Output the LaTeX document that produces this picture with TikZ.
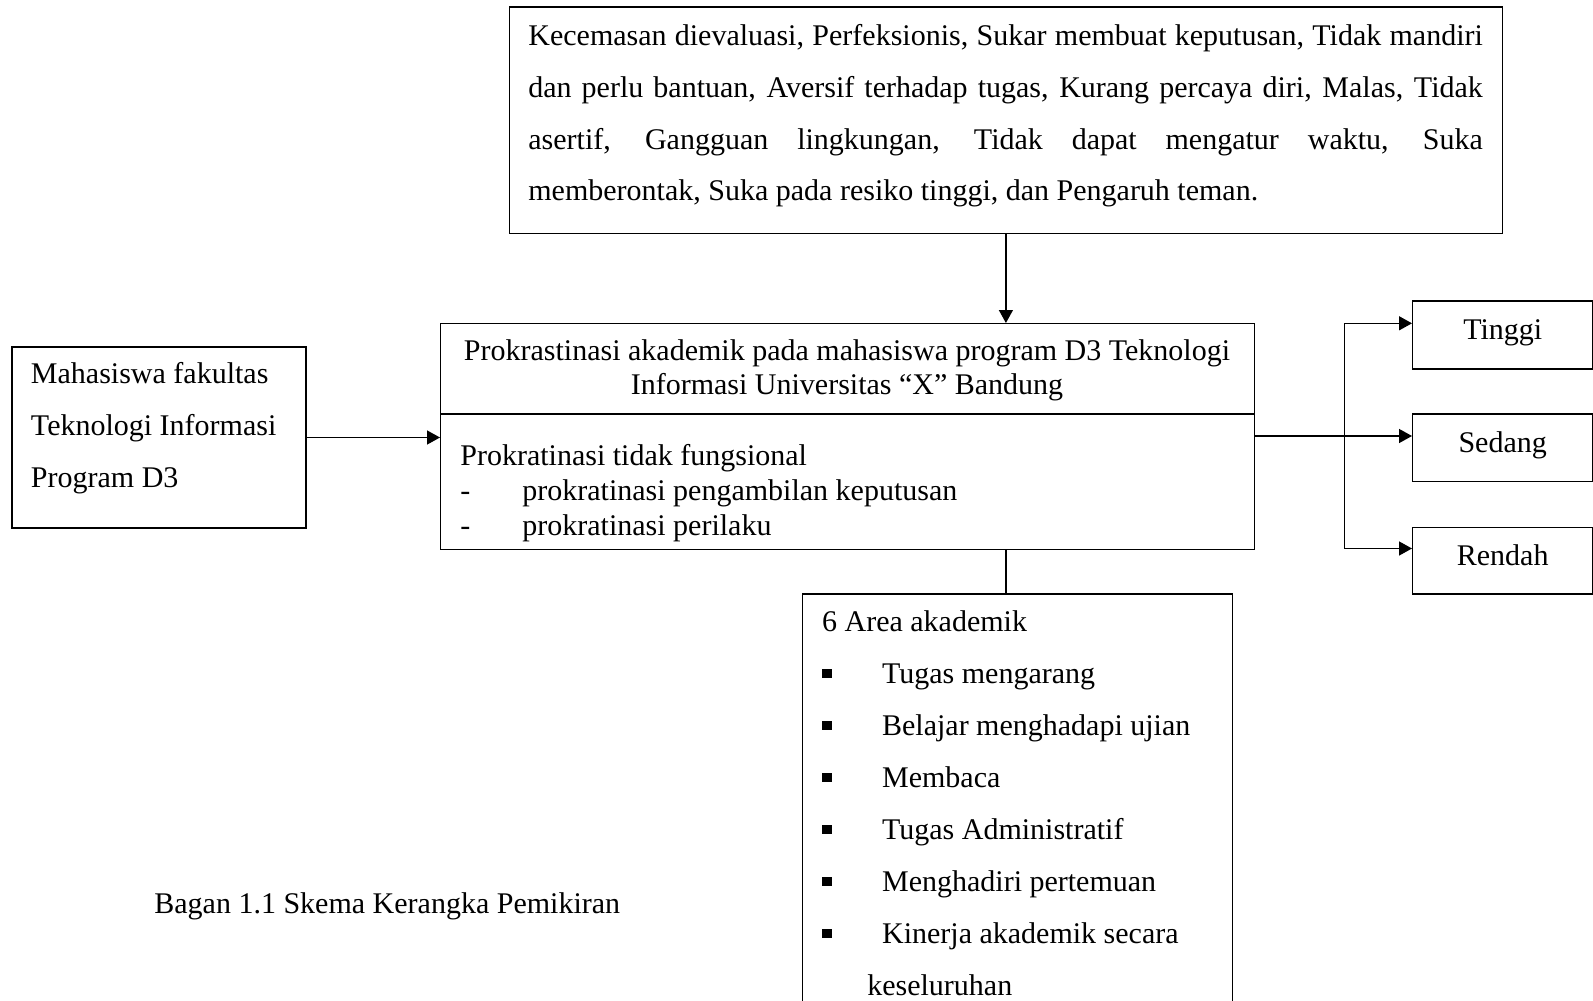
\documentclass[tikz,border=0pt]{standalone}
\usepackage{fontspec}
\setmainfont{Liberation Serif}
\usetikzlibrary{arrows.meta}
\newcommand{\butir}{\makebox[30pt][l]{\rule[2.4pt]{5pt}{4.8pt}}}
\newcommand{\tandastrip}{\makebox[31pt][l]{-}}
\tolerance=9999
\hyphenpenalty=10000

\begin{document}
\begin{tikzpicture}[x=0.5pt,y=-0.5pt,
  font=\fontsize{15}{25.9}\selectfont,
  kotak/.style={draw,line width=0.7pt,inner sep=0pt,anchor=north west},
  teks/.style={inner sep=0pt,anchor=base west,align=flush left},
  skala/.style={kotak,minimum width=90pt,text height=9.8pt,text depth=5.2pt},
  garis/.style={line width=0.7pt},
  panah/.style={garis,-{Triangle[length=6.5pt,width=7pt]}},
  duapanah/.style={garis,{Triangle[length=6.5pt,width=7pt]}-{Triangle[length=6.5pt,width=7pt]}}]
  \useasboundingbox (0,0) rectangle (1593,1000);
  \clip (0,0) rectangle (1593,1000);
  % kotak
  \node[kotak,minimum width=496.5pt,minimum height=113pt] (faktor) at (508.7,6.5) {};
  \node[kotak,minimum width=147pt,minimum height=90.5pt] (mhs) at (11.2,346.3) {};
  \node[kotak,minimum width=407pt,minimum height=45.15pt] (judul) at (440,323) {};
  \node[kotak,minimum width=407pt,minimum height=67.85pt] (isi) at (440,413.3) {};
  \node[kotak,minimum width=215pt,minimum height=240pt] (area) at (802,593.3) {};
  \node[skala,minimum height=34pt] (tinggi) at (1412,300.2) {Tinggi};
  \node[skala,minimum height=33.7pt] (sedang) at (1412,413.3) {Sedang};
  \node[skala,minimum height=33.3pt] (rendah) at (1412,526.7) {Rendah};
  % teks
  \node[teks,text width=477.2pt,align=justify] (tfaktor) at (528,45.5)
    {Kecemasan dievaluasi, Perfeksionis, Sukar membuat keputusan, Tidak mandiri\linebreak
     dan perlu bantuan, Aversif terhadap tugas, Kurang percaya diri, Malas, Tidak\linebreak
     asertif, Gangguan lingkungan, Tidak dapat mengatur waktu, Suka\linebreak
     memberontak, Suka pada resiko tinggi, dan Pengaruh teman.};
  \node[teks,text width=140pt] (tmhs) at (30.6,383.7)
    {Mahasiswa fakultas\\Teknologi Informasi\\Program D3};
  \node[teks,anchor=base,text width=407pt,align=flush center,font=\fontsize{15}{16.75}\selectfont] (tjudul) at (847,360.5)
    {Prokrastinasi akademik pada mahasiswa program D3 Teknologi\\Informasi Universitas “X” Bandung};
  \node[teks,text width=390pt,font=\fontsize{15}{17.5}\selectfont] (tisi) at (460,465)
    {Prokratinasi tidak fungsional\\
     \tandastrip prokratinasi pengambilan keputusan\\
     \tandastrip prokratinasi perilaku};
  \node[teks,text width=205pt,font=\fontsize{15}{26}\selectfont] (tarea) at (821.7,631)
    {6 Area akademik\\
     \butir Tugas mengarang\\
     \butir Belajar menghadapi ujian\\
     \butir Membaca\\
     \butir Tugas Administratif\\
     \butir Menghadiri pertemuan\\
     \butir Kinerja akademik secara\\
     \hspace*{22.6pt}keseluruhan};
  \node[teks] (bagan) at (154,913) {Bagan 1.1 Skema Kerangka Pemikiran};
  % panah
  \coordinate (cabang) at (1344.5,436);
  \coordinate (atas) at (1344.5,323.3);
  \coordinate (bawah) at (1344.5,548.5);
  \draw[panah] (faktor.south) -- (faktor.south |- judul.north);
  \draw[panah] (mhs.east) -- (mhs.east -| isi.west);
  \draw[garis] (faktor.south |- isi.south) -- (faktor.south |- area.north);
  \draw[panah] (isi.east |- cabang) -- (cabang -| sedang.west);
  \draw[duapanah] (atas -| tinggi.west) -- (atas) -- (bawah) -- (bawah -| rendah.west);
\end{tikzpicture}
\end{document}
